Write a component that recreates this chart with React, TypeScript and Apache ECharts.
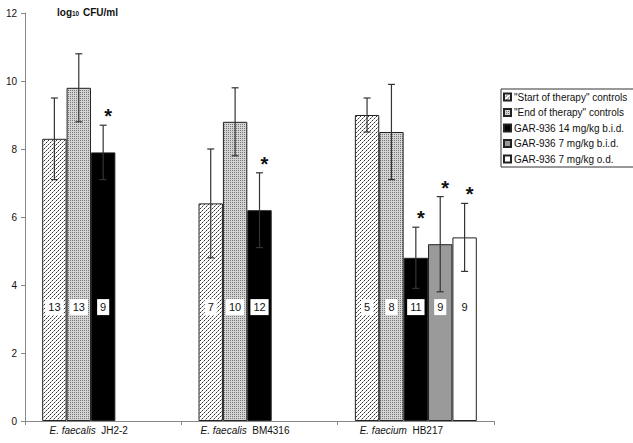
import React, { useEffect, useRef } from 'react';
import * as echarts from 'echarts';

const categories = ['E. faecalis JH2-2', 'E. faecalis BM4316', 'E. faecium HB217'];
const seriesNames = [
  '"Start of therapy" controls',
  '"End of therapy" controls',
  'GAR-936 14 mg/kg b.i.d.',
  'GAR-936 7 mg/kg b.i.d.',
  'GAR-936 7 mg/kg o.d.',
];
const startValues = [8.3, 6.4, 9.0];
const endValues = [9.8, 8.8, 8.5];
const gar14BidValues = [7.9, 6.2, 4.8];
const gar7BidValues = [null, null, 5.2];
const gar7OdValues = [null, null, 5.4];

const startUpper = [9.5, 8.0, 9.5];
const startLower = [7.1, 4.8, 8.5];
const endUpper = [10.8, 9.8, 9.9];
const endLower = [8.8, 7.8, 7.1];
const gar14BidUpper = [8.7, 7.3, 5.7];
const gar14BidLower = [7.1, 5.1, 3.9];
const gar7BidUpper = [null, null, 6.6];
const gar7BidLower = [null, null, 3.8];
const gar7OdUpper = [null, null, 6.4];
const gar7OdLower = [null, null, 4.4];

const startN = [13, 7, 5];
const endN = [13, 10, 8];
const gar14BidN = [9, 12, 11];
const gar7BidN = [null, null, 9];
const gar7OdN = [null, null, 9];

const startSig = [0, 0, 0];
const endSig = [0, 0, 0];
const gar14BidSig = [1, 1, 1];
const gar7BidSig = [0, 0, 1];
const gar7OdSig = [0, 0, 1];

const yMin = 0;
const yMax = 12;
const yInterval = 2;
const labelLevel = 3.35;

const FONT = '"Liberation Sans", Arial, sans-serif';

function makePattern(draw: (ctx: CanvasRenderingContext2D) => void, size: number) {
  const c = document.createElement('canvas');
  c.width = size;
  c.height = size;
  const ctx = c.getContext('2d')!;
  draw(ctx);
  return { image: c, repeat: 'repeat' } as any;
}

export default function App() {
  const ref = useRef<HTMLDivElement>(null);
  useEffect(() => {
    if (!ref.current) return;
    const chart = echarts.init(ref.current, undefined, { renderer: 'svg' });

    const startPattern = makePattern((ctx) => {
      ctx.fillStyle = '#ffffff';
      ctx.fillRect(0, 0, 4, 4);
      ctx.fillStyle = '#333333';
      ctx.fillRect(0, 0, 1, 1);
      ctx.fillRect(2, 2, 1, 1);
      ctx.fillStyle = '#9a9a9a';
      ctx.fillRect(1, 3, 1, 1);
      ctx.fillRect(3, 1, 1, 1);
    }, 4);
    const endPattern = makePattern((ctx) => {
      ctx.fillStyle = '#d4d4d4';
      ctx.fillRect(0, 0, 2, 2);
      ctx.fillStyle = '#777777';
      ctx.fillRect(0, 0, 1, 1);
    }, 2);
    const fills = [startPattern, endPattern, '#000000', '#9a9a9a', '#ffffff'];

    const valueSets = [startValues, endValues, gar14BidValues, gar7BidValues, gar7OdValues];
    const uppers = [startUpper, endUpper, gar14BidUpper, gar7BidUpper, gar7OdUpper];
    const lowers = [startLower, endLower, gar14BidLower, gar7BidLower, gar7OdLower];
    const ns = [startN, endN, gar14BidN, gar7BidN, gar7OdN];
    const sigs = [startSig, endSig, gar14BidSig, gar7BidSig, gar7OdSig];

    const errRows: number[][] = [];
    for (let s = 0; s < valueSets.length; s++) {
      for (let c = 0; c < categories.length; c++) {
        if (valueSets[s][c] == null) continue;
        errRows.push([c, s, lowers[s][c] as number, uppers[s][c] as number, ns[s][c] as number, sigs[s][c]]);
      }
    }

    const barSeries = valueSets.map((vals, s) => ({
      name: seriesNames[s],
      type: 'bar',
      data: vals,
      barGap: '0%',
      barCategoryGap: '22%',
      itemStyle: { color: fills[s], borderColor: '#222', borderWidth: 1 },
      z: 2,
    }));

    const option: any = {
      animation: false,
      backgroundColor: '#ffffff',
      textStyle: { fontFamily: FONT },
      grid: { left: 25, right: 139, top: 13, bottom: 22, containLabel: false },
      graphic: [
        {
          type: 'text',
          left: 57,
          top: 7,
          style: {
            text: '{a|log}{s|10}{a| CFU/ml}',
            rich: {
              a: { fontFamily: FONT, fontSize: 10, fontWeight: 'bold', fill: '#111', lineHeight: 12, verticalAlign: 'bottom' },
              s: { fontFamily: FONT, fontSize: 6.5, fontWeight: 'bold', fill: '#111', lineHeight: 12, verticalAlign: 'bottom', padding: [3, 1, 0, 0] },
            },
          },
        },
      ],
      legend: {
        data: seriesNames,
        orient: 'vertical',
        left: 501,
        top: 89,
        icon: 'rect',
        itemWidth: 7,
        itemHeight: 7,
        itemGap: 3.5,
        padding: [2, 7, 2, 2],
        borderColor: '#333',
        borderWidth: 1,
        textStyle: { fontFamily: FONT, fontSize: 10, color: '#111', lineHeight: 12, padding: [0, 0, 0, -2] },
        selectedMode: false,
      },
      xAxis: {
        type: 'category',
        data: categories,
        axisLine: { lineStyle: { color: '#888', width: 1 } },
        axisTick: { show: true, length: 4, lineStyle: { color: '#888' } },
        axisLabel: {
          margin: 4,
          color: '#111',
          fontFamily: FONT,
          fontSize: 10,
          padding: [0, 29, 0, 0],
          formatter: (v: string) => {
            const idx = v.lastIndexOf(' ');
            return '{i|' + v.slice(0, idx) + '}  ' + v.slice(idx + 1);
          },
          rich: { i: { fontStyle: 'italic', fontFamily: FONT, fontSize: 10, color: '#111' } },
        },
      },
      yAxis: {
        type: 'value',
        min: yMin,
        max: yMax,
        interval: yInterval,
        splitLine: { show: false },
        axisLine: { show: true, lineStyle: { color: '#888', width: 1 } },
        axisTick: { show: true, length: 4, lineStyle: { color: '#888' } },
        axisLabel: { margin: 8, color: '#111', fontFamily: FONT, fontSize: 10 },
      },
      series: [
        ...barSeries,
        {
          type: 'custom',
          name: 'errors',
          data: errRows,
          encode: { x: 0, y: 3 },
          z: 5,
          renderItem: (params: any, api: any) => {
            const cat = api.value(0);
            const s = api.value(1);
            const lo = api.value(2);
            const hi = api.value(3);
            const n = api.value(4);
            const sig = api.value(5);
            const band = api.size([1, 0])[0];
            const bw = (band * 0.78) / 5;
            const cx = api.coord([cat, 0])[0] + (s - 2) * bw;
            const yHi = api.coord([cat, hi])[1];
            const yLo = api.coord([cat, lo])[1];
            const yLab = api.coord([cat, labelLevel])[1];
            const ls = { stroke: '#333', lineWidth: 1.2 };
            const cap = 3.5;
            const children: any[] = [
              { type: 'line', shape: { x1: cx, y1: yHi, x2: cx, y2: yLo }, style: ls },
              { type: 'line', shape: { x1: cx - cap, y1: yHi, x2: cx + cap, y2: yHi }, style: ls },
              { type: 'line', shape: { x1: cx - cap, y1: yLo, x2: cx + cap, y2: yLo }, style: ls },
              {
                type: 'text',
                x: cx,
                y: yLab,
                style: {
                  text: String(n),
                  fill: '#111',
                  font: '11px ' + FONT,
                  align: 'center',
                  verticalAlign: 'middle',
                  backgroundColor: '#ffffff',
                  padding: [3, 3, 2, 3],
                },
              },
            ];
            if (sig) {
              children.push({
                type: 'text',
                x: cx + 5,
                y: yHi - 9,
                style: {
                  text: '*',
                  fill: '#111',
                  font: 'bold 20px ' + FONT,
                  align: 'center',
                  verticalAlign: 'middle',
                },
              });
            }
            return { type: 'group', children };
          },
        },
      ],
    };
    chart.setOption(option);
    return () => chart.dispose();
  }, []);
  return <div ref={ref} style={{ position: 'fixed', left: 0, top: 0, width: 633, height: 443 }} />;
}
